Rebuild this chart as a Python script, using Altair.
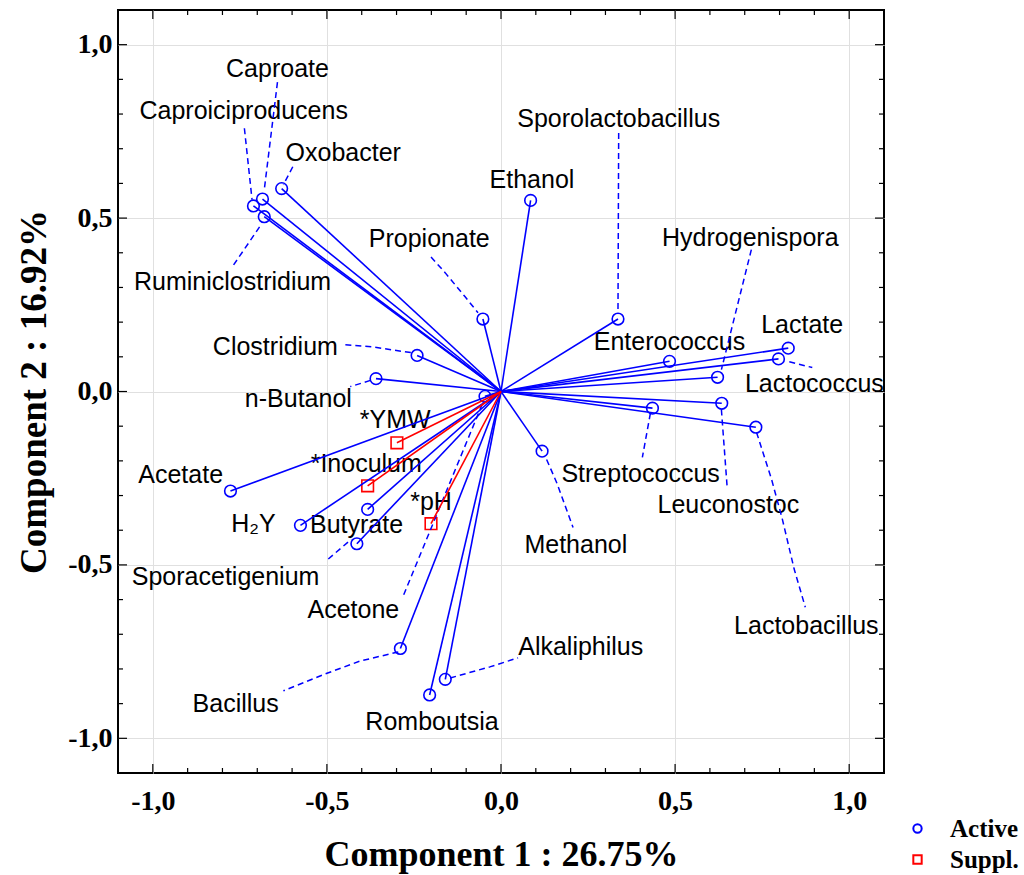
import altair as alt
import pandas as pd

# ---------------- data ----------------
active_names = ["Caproate", "Caproiciproducens", "Ruminiclostridium", "Oxobacter",
                "Propionate", "Clostridium", "n-Butanol", "Ethanol",
                "Sporolactobacillus", "Enterococcus", "Hydrogenispora", "Lactate",
                "Lactococcus", "Leuconostoc", "Streptococcus", "Lactobacillus",
                "Methanol", "Acetate", "H₂Y", "Butyrate", "Sporacetigenium",
                "Acetone", "Bacillus", "Romboutsia", "Alkaliphilus"]
active_x = [-0.685, -0.711, -0.680, -0.630, -0.052, -0.241, -0.359, 0.085,
            0.336, 0.484, 0.622, 0.825, 0.797, 0.634, 0.435, 0.732,
            0.118, -0.777, -0.576, -0.383, -0.414, -0.046, -0.289, -0.205, -0.160]
active_y = [0.555, 0.535, 0.504, 0.585, 0.209, 0.104, 0.037, 0.551,
            0.209, 0.087, 0.041, 0.125, 0.094, -0.034, -0.048, -0.103,
            -0.172, -0.287, -0.386, -0.340, -0.439, -0.014, -0.741, -0.875, -0.830]
active_label_x = [-0.642, -0.739, -0.771, -0.453, -0.206, -0.648, -0.582, 0.089,
                  0.338, 0.484, 0.716, 0.865, 0.900, 0.653, 0.401, 0.877,
                  0.215, -0.920, -0.711, -0.415, -0.791, -0.424, -0.762, -0.198, 0.229]
active_label_y = [0.929, 0.809, 0.317, 0.688, 0.440, 0.129, -0.023, 0.610,
                  0.786, 0.144, 0.443, 0.193, 0.023, -0.328, -0.239, -0.676,
                  -0.443, -0.242, -0.383, -0.386, -0.535, -0.630, -0.901, -0.953, -0.737]

suppl_names = ["*YMW", "*Inoculum", "*pH"]
suppl_x = [-0.299, -0.383, -0.201]
suppl_y = [-0.148, -0.272, -0.381]
suppl_label_x = [-0.304, -0.387, -0.201]
suppl_label_y = [-0.083, -0.210, -0.319]

leader_of = ["Caproate", "Caproiciproducens", "Oxobacter", "Ruminiclostridium",
             "Propionate", "Clostridium", "n-Butanol", "Sporolactobacillus",
             "Hydrogenispora", "Lactococcus", "Leuconostoc", "Streptococcus",
             "Lactobacillus", "Methanol", "Sporacetigenium", "Acetone",
             "Bacillus", "Alkaliphilus"]
leader_x = [[-0.642, -0.680], [-0.737, -0.715], [-0.598, -0.625], [-0.768, -0.691],
            [-0.201, -0.160, -0.103, -0.066], [-0.447, -0.372, -0.258],
            [-0.375, -0.433], [0.338, 0.336], [0.719, 0.633], [0.828, 0.894],
            [0.633, 0.650], [0.429, 0.406], [0.734, 0.777, 0.808, 0.842, 0.874],
            [0.131, 0.160, 0.207], [-0.496, -0.430], [-0.054, -0.281],
            [-0.295, -0.404, -0.504, -0.625], [-0.146, -0.032, 0.049]]
leader_y = [[0.892, 0.581], [0.759, 0.553], [0.648, 0.596], [0.365, 0.478],
            [0.388, 0.342, 0.273, 0.227], [0.135, 0.129, 0.112],
            [0.032, 0.014], [0.745, 0.227], [0.409, 0.063], [0.086, 0.069],
            [-0.052, -0.282], [-0.063, -0.190], [-0.118, -0.253, -0.368, -0.512, -0.622],
            [-0.196, -0.263, -0.392], [-0.483, -0.426], [-0.037, -0.590],
            [-0.751, -0.777, -0.814, -0.863], [-0.826, -0.794, -0.768]]

major_ticks = [-1.0, -0.5, 0.0, 0.5, 1.0]
minor_ticks = [-0.9, -0.8, -0.7, -0.6, -0.4, -0.3, -0.2, -0.1,
               0.1, 0.2, 0.3, 0.4, 0.6, 0.7, 0.8, 0.9]

# ---------------- tables ----------------
pts = pd.DataFrame({
    "name": active_names + suppl_names,
    "x": active_x + suppl_x,
    "y": active_y + suppl_y,
    "lx": active_label_x + suppl_label_x,
    "ly": active_label_y + suppl_label_y,
    "type": ["Active"] * len(active_names) + ["Suppl."] * len(suppl_names),
})
pts["x0"] = 0.0
pts["y0"] = 0.0

rows = []
for nm, xs, ys in zip(leader_of, leader_x, leader_y):
    for i, (a, b) in enumerate(zip(xs, ys)):
        rows.append({"name": nm, "x": a, "y": b, "o": i})
leaders = pd.DataFrame(rows)

maj = pd.DataFrame({"v": major_ticks})
mnr = pd.DataFrame({"v": minor_ticks})

# ---------------- styling ----------------
W, H = 766, 763
SERIF = "Liberation Serif"
SANS = "Liberation Sans"
XT = "Component 1 : 26.75%"
YT = "Component 2 : 16.92%"
xscale = alt.Scale(domain=[-1.1, 1.1], nice=False, zero=False)
yscale = alt.Scale(domain=[-1.1, 1.1], nice=False, zero=False)

xaxis = alt.Axis(values=major_ticks, format=".1f", labelFont=SERIF, labelFontWeight="bold",
                 labelFontSize=28, labelColor="black", ticks=False, domain=False,
                 grid=True, gridColor="#e0e0e0", gridWidth=1, labelPadding=14,
                 titleFont=SERIF, titleFontSize=36,
                 titleFontWeight="bold", titleColor="black", titlePadding=22)
yaxis = alt.Axis(values=major_ticks, format=".1f", labelFont=SERIF, labelFontWeight="bold",
                 labelFontSize=28, labelColor="black", ticks=False, domain=False,
                 grid=True, gridColor="#e0e0e0", gridWidth=1, labelPadding=6,
                 titleFont=SERIF, titleFontSize=37,
                 titleFontWeight="bold", titleColor="black", titlePadding=14)


def X(field):
    return alt.X(field, scale=xscale, axis=xaxis, title=XT)


def Y(field):
    return alt.Y(field, scale=yscale, axis=yaxis, title=YT)


BLUE = "#0000ff"
RED = "#ff0000"
cscale = alt.Scale(domain=["Active", "Suppl."], range=[BLUE, RED])
sscale = alt.Scale(domain=["Active", "Suppl."], range=["circle", "square"])

legend = alt.Legend(title=None, orient="none", legendX=787, legendY=806,
                    labelFont=SERIF, labelFontSize=25, labelFontWeight="bold",
                    labelColor="black", symbolSize=70, symbolStrokeWidth=2,
                    rowPadding=5, labelOffset=20, padding=0)

# ---------------- layers ----------------
points = alt.Chart(pts).mark_point(filled=False, size=135, strokeWidth=1.6, opacity=1).encode(
    x=X("x:Q"),
    y=Y("y:Q"),
    color=alt.Color("type:N", scale=cscale, legend=legend),
    shape=alt.Shape("type:N", scale=sscale, legend=legend),
)

text = alt.Chart(pts).mark_text(font=SANS, fontSize=25, color="black",
                                align="center", baseline="middle").encode(
    x=X("lx:Q"),
    y=Y("ly:Q"),
    text="name:N",
)

lead = alt.Chart(leaders).mark_line(color=BLUE, strokeWidth=1.5, strokeDash=[6, 4]).encode(
    x=X("x:Q"),
    y=Y("y:Q"),
    detail="name:N",
    order="o:Q",
)

rays = alt.Chart(pts).mark_rule(strokeWidth=1.6).encode(
    x=X("x0:Q"),
    y=Y("y0:Q"),
    x2="x:Q",
    y2="y:Q",
    color=alt.Color("type:N", scale=cscale, legend=None),
)


def tick_layer(df, orient, length):
    base = alt.Chart(df).mark_rule(color="black", strokeWidth=1.2)
    if orient == "bottom":
        return base.encode(x=X("v:Q"), y=alt.value(H), y2=alt.value(H - length))
    if orient == "top":
        return base.encode(x=X("v:Q"), y=alt.value(0), y2=alt.value(length))
    if orient == "left":
        return base.encode(y=Y("v:Q"), x=alt.value(0), x2=alt.value(length))
    return base.encode(y=Y("v:Q"), x=alt.value(W), x2=alt.value(W - length))


ticks = [tick_layer(maj, o, 9) for o in ["bottom", "top", "left", "right"]] + \
        [tick_layer(mnr, o, 5) for o in ["bottom", "top", "left", "right"]]

chart = alt.layer(points, text, lead, rays, *ticks).properties(
    width=W, height=H,
    background="white",
    autosize=alt.AutoSizeParams(type="none"),
    padding={"left": 118, "top": 10, "right": 140, "bottom": 102},
).configure(
    view=alt.ViewConfig(stroke="black", strokeWidth=2),
    locale={"number": {"decimal": ",", "thousands": ".", "grouping": [3],
                       "currency": ["", ""], "minus": "-"}},
)

chart.save("out.html", embed_options={"renderer": "svg", "actions": False})
